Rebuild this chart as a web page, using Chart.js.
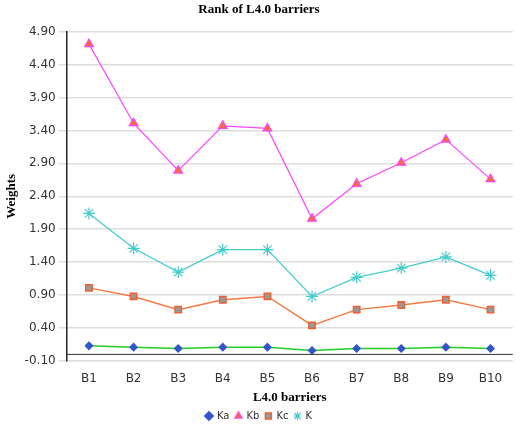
<!DOCTYPE html>
<html>
<head>
<script src="https://cdn.jsdelivr.net/npm/chart.js@4"></script>
<style>
body { margin: 0; background: #fff; }
#wrap { width: 520px; height: 431px; }
</style>
</head>
<body>
<div id="wrap"><canvas id="rankChart"></canvas></div>
<script>
var labels = ['B1', 'B2', 'B3', 'B4', 'B5', 'B6', 'B7', 'B8', 'B9', 'B10'];
var ka = [0.13, 0.11, 0.09, 0.11, 0.11, 0.06, 0.09, 0.09, 0.11, 0.09];
var kb = [4.71, 3.51, 2.79, 3.47, 3.43, 2.06, 2.59, 2.91, 3.26, 2.66];
var kc = [1.01, 0.88, 0.68, 0.83, 0.88, 0.44, 0.68, 0.75, 0.83, 0.68];
var k = [2.14, 1.61, 1.25, 1.59, 1.59, 0.88, 1.17, 1.31, 1.48, 1.20];

// draw the dark axis line at zero
const zeroLine = {
    id: 'zeroLine',
    afterDatasetsDraw(chart) {
        var y = chart.scales.y.getPixelForValue(0);
        var a = chart.chartArea;
        var c = chart.ctx;
        c.save();
        c.strokeStyle = '#333';
        c.lineWidth = 1;
        c.beginPath();
        c.moveTo(a.left, y);
        c.lineTo(a.right, y);
        c.stroke();
        c.restore();
    }
};

const ctx = document.getElementById('rankChart');
const chart = new Chart(ctx, {
    type: 'line',
    data: {
        labels: labels,
        datasets: [
            { label: 'Ka', data: ka, borderColor: '#22cc22', backgroundColor: '#3355cc', borderWidth: 1.5,
              pointStyle: 'rectRot', pointRadius: 3.5, pointBorderColor: '#3355cc' },
            { label: 'Kb', data: kb, borderColor: '#ff44ff', backgroundColor: '#f07030', borderWidth: 1.2,
              pointStyle: 'triangle', pointRadius: 5, pointBorderColor: '#ff44ff' },
            { label: 'Kc', data: kc, borderColor: '#f47a45', backgroundColor: '#999999', borderWidth: 1.5,
              pointStyle: 'rect', pointRadius: 4.5, pointBorderColor: '#f06030' },
            { label: 'K', data: k, borderColor: '#44cccc', backgroundColor: '#44cccc', borderWidth: 1.2,
              pointStyle: 'star', pointRadius: 6, pointBorderColor: '#44cccc' }
        ]
    },
    options: {
        animation: false,
        maintainAspectRatio: false,
        layout: { padding: { left: 2, right: 4, top: 0, bottom: 0 } },
        plugins: {
            title: { display: true, text: 'Rank of L4.0 barriers', color: '#000',
                     font: { family: 'Liberation Serif', size: 13, weight: 'bold' }, padding: { top: 2, bottom: 14 } },
            legend: { position: 'bottom', labels: { usePointStyle: true, boxWidth: 6, boxHeight: 6, color: '#333',
                     font: { family: 'DejaVu Sans', size: 10 }, padding: 6 } }
        },
        scales: {
            x: {
                offset: true,
                grid: { display: false },
                border: { display: false },
                ticks: { color: '#333', font: { family: 'DejaVu Sans', size: 12 } },
                title: { display: true, text: 'L4.0 barriers', color: '#000', padding: 0,
                         font: { family: 'Liberation Serif', size: 13, weight: 'bold' } }
            },
            y: {
                min: -0.10,
                max: 4.90,
                ticks: { stepSize: 0.5, color: '#333', font: { family: 'DejaVu Sans', size: 12 },
                         callback: function (v) { return v.toFixed(2); } },
                grid: { color: '#dddddd', lineWidth: 1.5 },
                border: { color: '#222', width: 1.5 },
                title: { display: true, text: 'Weights', color: '#000', padding: 2,
                         font: { family: 'Liberation Serif', size: 13, weight: 'bold' } }
            }
        }
    },
    plugins: [zeroLine]
});
</script>
</body>
</html>
